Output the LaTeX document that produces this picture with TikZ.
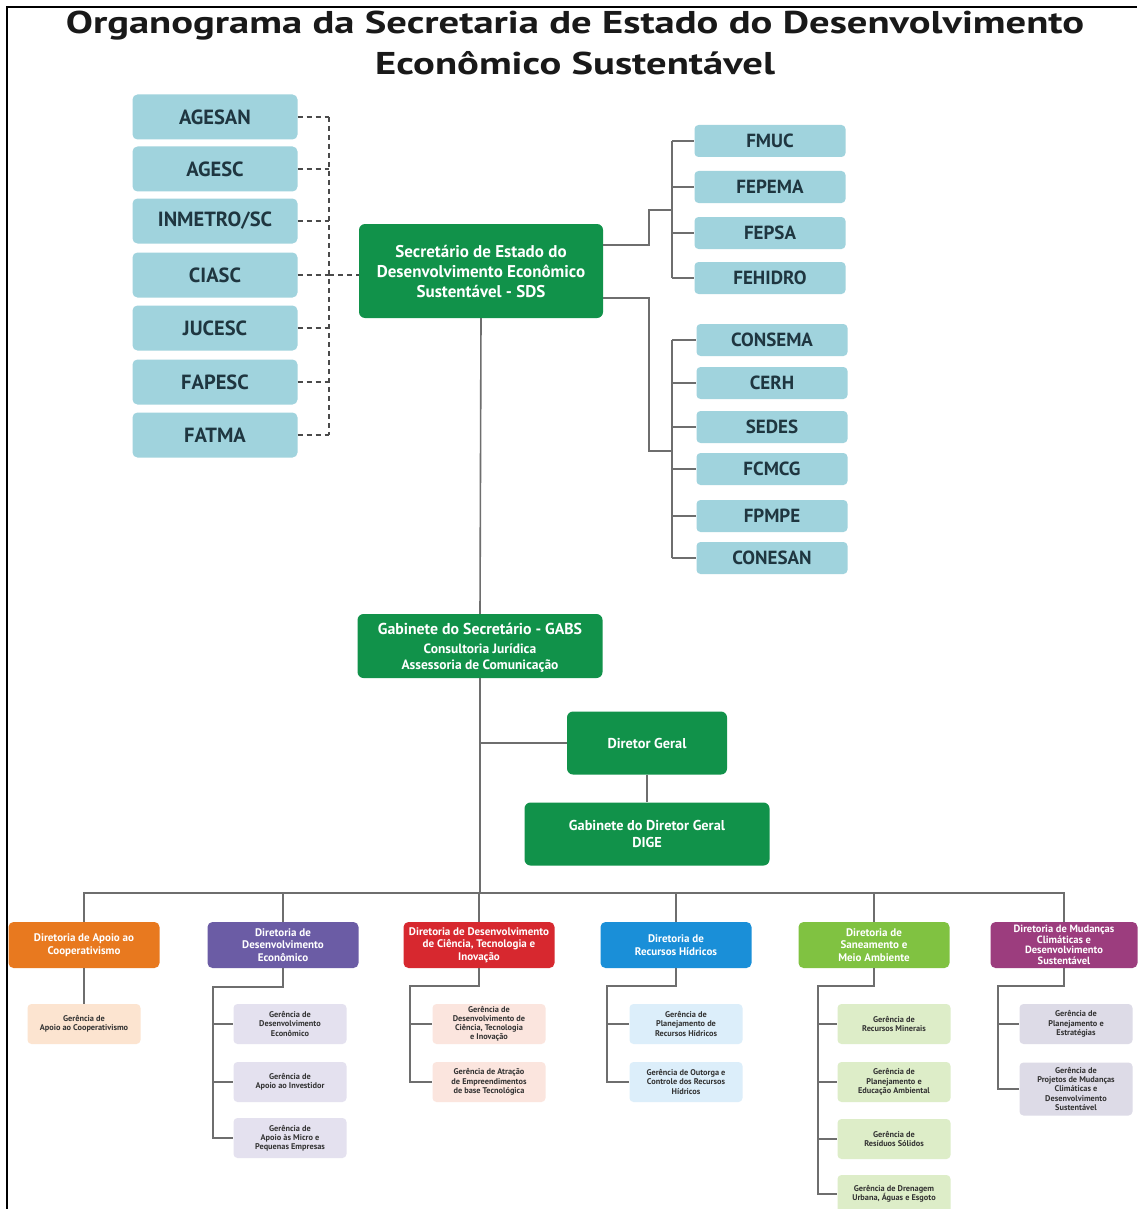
\documentclass[tikz,border=0pt]{standalone}
\usepackage{fontspec}
\setmainfont{PT Sans}
\newfontfamily\titlefont[FakeStretch=1.29]{PT Sans}
\definecolor{lb}{HTML}{A0D3DD}
\definecolor{lbtxt}{HTML}{1F3640}
\definecolor{sgreen}{HTML}{11924A}
\definecolor{lgray}{HTML}{6E6E6E}
\definecolor{dgray}{HTML}{4A4A4A}
\definecolor{cOr}{HTML}{E8791F}
\definecolor{cPu}{HTML}{6B5CA5}
\definecolor{cRe}{HTML}{D7282F}
\definecolor{cBl}{HTML}{1A8FD8}
\definecolor{cGr}{HTML}{80C241}
\definecolor{cMa}{HTML}{9C3D7E}
\definecolor{sOr}{HTML}{FCE4D0}
\definecolor{sPu}{HTML}{E4E1EF}
\definecolor{sRe}{HTML}{FBE5DE}
\definecolor{sBl}{HTML}{DCEEFA}
\definecolor{sGr}{HTML}{DDEDC8}
\definecolor{sMa}{HTML}{DDDBE7}
\definecolor{subtxt}{HTML}{333333}
\begin{document}
\begin{tikzpicture}[x=1pt,y=-1pt,
  ln/.style={draw=lgray,line width=1.6pt},
  dsh/.style={draw=dgray,line width=1.3pt,dash pattern=on 5pt off 4pt},
  lbox/.style={fill=lb,rounded corners=5pt,minimum width=165pt,minimum height=45pt,inner sep=0pt,text=lbtxt,font=\fontsize{20.5}{22}\selectfont\bfseries},
  rbox/.style={fill=lb,rounded corners=4pt,minimum width=151pt,minimum height=32pt,inner sep=0pt,text=lbtxt,font=\fontsize{19}{20}\selectfont\bfseries},
  gbox/.style={fill=sgreen,rounded corners=6pt,inner sep=0pt,text=white,align=center},
  dbox/.style={rounded corners=5pt,minimum width=151pt,minimum height=46pt,inner sep=0pt,text=white,align=center,font=\fontsize{11}{12.5}\selectfont\bfseries},
  sbox/.style={rounded corners=4pt,minimum width=113pt,minimum height=40pt,inner sep=0pt,text=subtxt,align=center,font=\fontsize{8.3}{9.2}\selectfont\bfseries},
  ttl/.style={anchor=base,text=black!90,font=\titlefont\fontsize{31.5}{34}\selectfont\bfseries}
]
\useasboundingbox (0,0) rectangle (1137,1209);
\fill[white] (0,0) rectangle (1137,1209);
\draw[black,line width=1.2pt] (7,1209) -- (7,7) -- (1137,7);

% title
\node[ttl] (t1) at (575,34) {Organograma da Secretaria de Estado do Desenvolvimento};
\node[ttl] (t2) at (575,75) {Econômico Sustentável};

% left boxes
\node[lbox] (agesan) at (215,117) {AGESAN};
\node[lbox] (agesc) at (215,169) {AGESC};
\node[lbox] (inmetro) at (215,221) {INMETRO/SC};
\node[lbox] (ciasc) at (215,275) {CIASC};
\node[lbox] (jucesc) at (215,328) {JUCESC};
\node[lbox] (fapesc) at (215,382) {FAPESC};
\node[lbox] (fatma) at (215,435) {FATMA};

% SDS
\node[gbox,minimum width=244pt,minimum height=94pt,font=\fontsize{17}{20}\selectfont\bfseries] (sds) at (481,271) {Secretário de Estado do\\Desenvolvimento Econômico\\Sustentável - SDS};

% dashed connectors
\coordinate (dv) at (329,275);
\foreach \n in {agesan,agesc,inmetro,ciasc,jucesc,fapesc,fatma}{\draw[dsh] (\n.east) -- (\n.east-|dv);}
\draw[dsh] (agesan.east-|dv) -- (fatma.east-|dv);
\draw[dsh] (dv) -- (dv-|sds.west);

% right boxes
\node[rbox] (fmuc) at (770,141) {FMUC};
\node[rbox] (fepema) at (770,187) {FEPEMA};
\node[rbox] (fepsa) at (770,233) {FEPSA};
\node[rbox] (fehidro) at (770,278) {FEHIDRO};
\node[rbox] (consema) at (772,340) {CONSEMA};
\node[rbox] (cerh) at (772,383) {CERH};
\node[rbox] (sedes) at (772,427) {SEDES};
\node[rbox] (fcmcg) at (772,469) {FCMCG};
\node[rbox] (fpmpe) at (772,516) {FPMPE};
\node[rbox] (conesan) at (772,558) {CONESAN};

\coordinate (ua) at (649,245);
\coordinate (ub) at (649,210);
\coordinate (bu) at (672,210);
\draw[ln] (sds.east|-ua) -- (ua) -- (ub) -- (bu);
\draw[ln] (fmuc.west-|bu) -- (fehidro.west-|bu);
\foreach \n in {fmuc,fepema,fepsa,fehidro}{\draw[ln] (\n.west-|bu) -- (\n.west);}
\coordinate (la) at (649,298);
\coordinate (lb) at (649,451);
\coordinate (bl) at (672,451);
\draw[ln] (sds.east|-la) -- (la) -- (lb) -- (bl);
\draw[ln] (consema.west-|bl) -- (conesan.west-|bl);
\foreach \n in {consema,cerh,sedes,fcmcg,fpmpe,conesan}{\draw[ln] (\n.west-|bl) -- (\n.west);}

% GABS etc
\node[gbox,minimum width=245pt,minimum height=64pt] (gabs) at (480,646) {};
\node[text=white,font=\fontsize{15.8}{17}\selectfont\bfseries,anchor=base] (gabs1) at (480,634) {Gabinete do Secretário - GABS};
\node[text=white,font=\fontsize{13.5}{16.5}\selectfont\bfseries,align=center,anchor=north] (gabs2) at (480,640) {Consultoria Jurídica\\Assessoria de Comunicação};
\node[gbox,minimum width=160pt,minimum height=63pt,font=\fontsize{14.3}{16}\selectfont\bfseries] (dg) at (647,743) {Diretor Geral};
\node[gbox,minimum width=245pt,minimum height=63pt,font=\fontsize{14.3}{17}\selectfont\bfseries] (dige) at (647,834) {Gabinete do Diretor Geral\\DIGE};

\draw[ln] (sds.south) -- (gabs.north);
\coordinate (bus) at (82,893);
\draw[ln] (gabs.south) -- (gabs.south|-bus);
\draw[ln] (dg.west) -- (dg.west-|gabs.south);
\draw[ln] (dg.south) -- (dige.north);

% directorates
\node[dbox,fill=cOr] (dA) at (84,945) {Diretoria de Apoio ao\\Cooperativismo};
\node[dbox,fill=cPu] (dB) at (283,945) {Diretoria de\\Desenvolvimento\\Econômico};
\node[dbox,fill=cRe] (dC) at (479,945) {Diretoria de Desenvolvimento\\de Ciência, Tecnologia e\\Inovação};
\node[dbox,fill=cBl] (dD) at (676,945) {Diretoria de\\Recursos Hídricos};
\node[dbox,fill=cGr] (dE) at (874,945) {Diretoria de\\Saneamento e\\Meio Ambiente};
\node[dbox,fill=cMa,minimum width=147pt,font=\fontsize{10.5}{10.5}\selectfont\bfseries] (dF) at (1064,945) {Diretoria de Mudanças\\Climáticas e\\Desenvolvimento\\Sustentável};

\draw[ln] (dA.north) -- (dA.north|-bus) -- (dF.north|-bus) -- (dF.north);
\foreach \n in {dB,dC,dD,dE}{\draw[ln] (\n.north) -- (\n.north|-bus);}

% sub boxes
\node[sbox,fill=sOr] (gA1) at (84,1024) {Gerência de\\Apoio ao Cooperativismo};
\draw[ln] (dA.south) -- (gA1.north);

\node[sbox,fill=sPu] (gB1) at (290,1024) {Gerência de\\Desenvolvimento\\Econômico};
\node[sbox,fill=sPu] (gB2) at (290,1082) {Gerência de\\Apoio ao Investidor};
\node[sbox,fill=sPu] (gB3) at (290,1138) {Gerência de\\Apoio às Micro e\\Pequenas Empresas};
\coordinate (jB) at (213,987);
\draw[ln] (dB.south) |- (jB) |- (gB3.west);
\foreach \n in {gB1,gB2}{\draw[ln] (\n.west-|jB) -- (\n.west);}

\node[sbox,fill=sRe] (gC1) at (489,1024) {Gerência de\\Desenvolvimento de\\Ciência, Tecnologia\\e Inovação};
\node[sbox,fill=sRe] (gC2) at (489,1082) {Gerência de Atração\\de Empreendimentos\\de base Tecnológica};
\coordinate (jC) at (410,986);
\draw[ln] (dC.south) |- (jC) |- (gC2.west);
\draw[ln] (gC1.west-|jC) -- (gC1.west);

\node[sbox,fill=sBl] (gD1) at (686,1024) {Gerência de\\Planejamento de\\Recursos Hídricos};
\node[sbox,fill=sBl] (gD2) at (686,1082) {Gerência de Outorga e\\Controle dos Recursos\\Hídricos};
\coordinate (jD) at (607,986);
\draw[ln] (dD.south) |- (jD) |- (gD2.west);
\draw[ln] (gD1.west-|jD) -- (gD1.west);

\node[sbox,fill=sGr] (gE1) at (894,1024) {Gerência de\\Recursos Minerais};
\node[sbox,fill=sGr] (gE2) at (894,1082) {Gerência de\\Planejamento e\\Educação Ambiental};
\node[sbox,fill=sGr] (gE3) at (894,1139) {Gerência de\\Resíduos Sólidos};
\node[sbox,fill=sGr,minimum height=38pt] (gE4) at (894,1194) {Gerência de Drenagem\\Urbana, Águas e Esgoto};
\coordinate (jE) at (818,986);
\draw[ln] (dE.south) |- (jE) |- (gE4.west);
\foreach \n in {gE1,gE2,gE3}{\draw[ln] (\n.west-|jE) -- (\n.west);}

\node[sbox,fill=sMa] (gF1) at (1076,1024) {Gerência de\\Planejamento e\\Estratégias};
\node[sbox,fill=sMa,minimum height=53pt] (gF2) at (1076,1089) {Gerência de\\Projetos de Mudanças\\Climáticas e\\Desenvolvimento\\Sustentável};
\coordinate (jF) at (998,986);
\draw[ln] (dF.south) |- (jF) |- (gF2.west);
\draw[ln] (gF1.west-|jF) -- (gF1.west);
\end{tikzpicture}
\end{document}
